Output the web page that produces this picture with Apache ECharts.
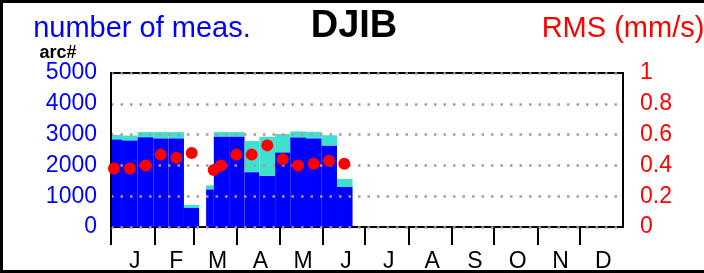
<!DOCTYPE html>
<html>
<head>
<meta charset="utf-8">
<script src="https://cdn.jsdelivr.net/npm/echarts@6/dist/echarts.min.js"></script>
<style>
html,body{margin:0;padding:0;background:#fff;}
#chart{width:704px;height:273px;}
</style>
</head>
<body>
<div id="chart"></div>
<script>
// ---- data (day of year) ----
const arcStart = [0, 7.8, 19.0, 30.2, 41.0, 52.0, 67.8, 73.3, 84.2, 95.2, 105.8, 117.0, 127.8, 139.0, 150.2, 161.1];
const arcEnd   = [7.8, 19.0, 30.2, 41.0, 52.0, 62.8, 73.3, 84.2, 95.2, 105.8, 117.0, 127.8, 139.0, 150.2, 161.1, 172.2];
const usedMeas  = [2840, 2810, 2915, 2870, 2870, 620, 1217, 2930, 2930, 1777, 1657, 2422, 2903, 2871, 2642, 1299];
const totalMeas = [2990, 2970, 3082, 3082, 3082, 714, 1352, 3082, 3082, 2790, 2925, 3019, 3104, 3092, 2978, 1563];
const rmsDay = [2.1, 13.5, 24.7, 35.4, 46.6, 57.5, 73.2, 78.4, 89.3, 100.3, 111.4, 122.4, 133.3, 144.5, 155.4, 166.3];
const rmsVal = [0.38, 0.38, 0.40, 0.47, 0.45, 0.48, 0.37, 0.40, 0.47, 0.47, 0.53, 0.44, 0.40, 0.41, 0.43, 0.41];
const monthStart = [0, 31, 59, 90, 120, 151, 181, 212, 243, 273, 304, 334, 365];
const monthLabels = ['J','F','M','A','M','J','J','A','S','O','N','D'];
const leftTicks = [0, 1000, 2000, 3000, 4000, 5000];
const rightTicks = [0, 0.2, 0.4, 0.6, 0.8, 1];

const FONT = 'Liberation Sans, Arial, Helvetica, sans-serif';
const chart = echarts.init(document.getElementById('chart'), null, {renderer: 'canvas'});

const barData = arcStart.map((s, i) => [s, arcEnd[i], usedMeas[i], totalMeas[i]]);
const dotData = rmsDay.map((d, i) => [d, rmsVal[i]]);
const labelPos = monthLabels.map((m, i) => (monthStart[i] + monthStart[i + 1]) / 2 + 1.5);

const option = {
  animation: false,
  backgroundColor: '#fff',
  grid: {left: 111, right: 81, top: 73, bottom: 41, show: true, borderColor: '#000', borderWidth: 2, backgroundColor: 'transparent'},
  xAxis: {
    type: 'value', min: 0, max: 365,
    splitLine: {show: false},
    axisLine: {show: true, lineStyle: {color: '#000', width: 2}},
    axisTick: {show: true, inside: false, length: 18, customValues: monthStart.slice(0, 12), lineStyle: {color: '#000', width: 2}},
    axisLabel: {
      show: true, customValues: labelPos, margin: 23,
      color: '#000', fontSize: 23, fontFamily: FONT,
      formatter: function (v) {
        for (let i = 0; i < 12; i++) { if (v >= monthStart[i] && v < monthStart[i + 1]) return monthLabels[i]; }
        return '';
      }
    }
  },
  yAxis: [
    {
      type: 'value', min: leftTicks[0], max: leftTicks[leftTicks.length - 1], interval: 1000, z: 3,
      axisLine: {show: true, lineStyle: {color: '#000', width: 2}},
      axisTick: {show: false},
      axisLabel: {color: '#0000ff', fontSize: 23, fontFamily: FONT, margin: 14, padding: [0, 0, 6, 0], formatter: function (v) { return String(v); }},
      splitLine: {show: true, lineStyle: {color: '#b89494', width: 2.5, type: [2.5, 7]}}
    },
    {
      type: 'value', min: rightTicks[0], max: rightTicks[rightTicks.length - 1], interval: 0.2, position: 'right',
      axisLine: {show: true, lineStyle: {color: '#000', width: 2}},
      axisTick: {show: false},
      axisLabel: {color: '#ff0000', fontSize: 23, fontFamily: FONT, margin: 17, align: 'left', padding: [0, 0, 6, 0]},
      splitLine: {show: false}
    }
  ],
  series: [
    {
      type: 'custom', xAxisIndex: 0, yAxisIndex: 0, z: 2,
      data: barData,
      encode: {x: [0, 1], y: [2, 3]},
      renderItem: function (params, api) {
        const s = api.value(0), e = api.value(1), b = api.value(2), t = api.value(3);
        const p0 = api.coord([s, 0]);
        const p1 = api.coord([e, b]);
        const p2 = api.coord([e, t]);
        return {
          type: 'group',
          children: [
            {type: 'rect', shape: {x: p0[0], y: p2[1], width: p1[0] - p0[0], height: p1[1] - p2[1]}, style: {fill: '#40e0d0'}},
            {type: 'rect', shape: {x: p0[0], y: p1[1], width: p1[0] - p0[0], height: p0[1] - p1[1]}, style: {fill: '#0000ff'}}
          ]
        };
      }
    },
    {
      type: 'scatter', xAxisIndex: 0, yAxisIndex: 1, z: 5,
      data: dotData,
      symbol: 'circle', symbolSize: 12,
      itemStyle: {color: '#ff0000', opacity: 1}
    }
  ],
  graphic: [
    {type: 'rect', shape: {x: 0, y: 0, width: 704, height: 3}, style: {fill: '#000'}, z: 100},
    {type: 'rect', shape: {x: 0, y: 0, width: 3, height: 273}, style: {fill: '#000'}, z: 100},
    {type: 'rect', shape: {x: 0, y: 270, width: 704, height: 3}, style: {fill: '#000'}, z: 100},
    {type: 'text', x: 142, y: 29, style: {text: 'number of meas.', fill: '#0000ff', font: '29px ' + FONT, textAlign: 'center', textVerticalAlign: 'middle'}},
    {type: 'text', x: 354, y: 27, style: {text: 'DJIB', fill: '#000', font: 'bold 38px ' + FONT, textAlign: 'center', textVerticalAlign: 'middle'}},
    {type: 'text', x: 623, y: 29, style: {text: 'RMS (mm/s)', fill: '#ff0000', font: '29px ' + FONT, textAlign: 'center', textVerticalAlign: 'middle'}},
    {type: 'text', x: 58, y: 53, style: {text: 'arc#', fill: '#000', font: 'bold 18px ' + FONT, textAlign: 'center', textVerticalAlign: 'middle'}}
  ]
};
chart.setOption(option);
</script>
</body>
</html>
